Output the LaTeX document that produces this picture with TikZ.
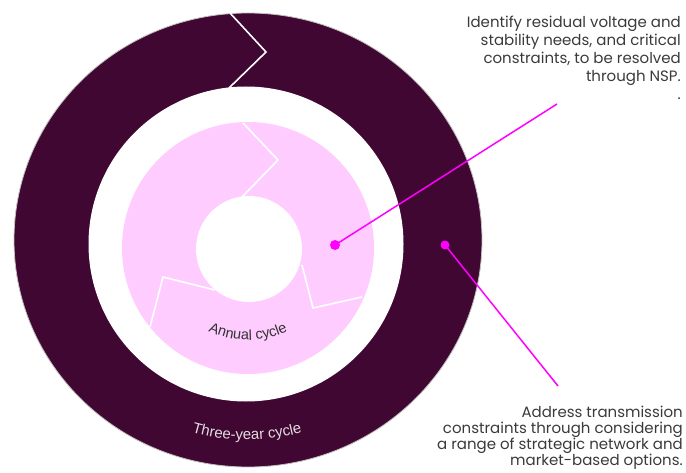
\documentclass[tikz,border=0pt]{standalone}
\usepackage{fontspec}
\setmainfont{Poppins}
\newfontfamily\labelfont{Liberation Sans}
\usetikzlibrary{decorations.text}
\definecolor{ringdark}{HTML}{3F0731}
\definecolor{ringpink}{HTML}{FFCCFF}
\definecolor{callout}{HTML}{FF00FF}
\definecolor{bodytext}{HTML}{3A3A3A}
\definecolor{ringtext}{HTML}{E2DCE0}
\definecolor{annualtext}{HTML}{333333}

\begin{document}
\begin{tikzpicture}[x=1pt,y=1pt,
  gapline/.style={draw=white, line width=1.6pt, line join=miter},
  calloutline/.style={draw=callout, line width=1.5pt},
  calloutdot/.style={circle, fill=callout, inner sep=0pt, minimum size=10pt},
  note/.style={align=right, text=bodytext, inner sep=0pt},
]
\useasboundingbox (0,0) rectangle (686,472);

% three-year ring, white gap, annual ring and hub
\path[fill=ringdark, draw=black!25, line width=0.8pt] (248,232) ellipse[x radius=234, y radius=227];
\fill[white] (246,228) circle[radius=157.5];
\fill[ringpink] (248,224) circle[radius=126];
\fill[white] (249,223) circle[radius=53];

% chevron gaps between the cycle segments
\draw[gapline] (230,459) -- (266,420) -- (229,384);
\draw[gapline] (243,349) -- (278,312) -- (242,275);
\draw[gapline] (150,145) -- (163,195) -- (215,182);
\draw[gapline] (302,207) -- (313,164) -- (362,175);

% ring labels set along arcs
\path[decorate, decoration={text along path, text align=center, text color=annualtext,
  text={|\labelfont\fontsize{14.5}{14.5}\selectfont|Annual cycle}}]
  (248,224) ++(240:92) arc[start angle=240, end angle=300, radius=92];
\path[decorate, decoration={text along path, text align=center, text color=ringtext,
  text={|\labelfont\fontsize{15}{15}\selectfont|Three-year cycle}}]
  (247,230) ++(240:198) arc[start angle=240, end angle=300, radius=198];

% callouts
\node[calloutdot] (dotA) at (335,227) {};
\node[calloutdot, minimum size=9pt] (dotB) at (445,227) {};
\coordinate (endA) at (557,368);
\coordinate (endB) at (558,86);
\draw[calloutline] (dotA.center) -- (endA);
\draw[calloutline] (dotB.center) -- (endB);

\node[note, anchor=north east, font=\fontsize{15}{18}\selectfont] (noteA) at (681,456)
  {Identify residual voltage and\\stability needs, and critical\\constraints, to be resolved\\through NSP.\\.};
\node[note, anchor=north east, font=\fontsize{15}{16}\selectfont] (noteB) at (683,66)
  {Address transmission\\constraints through considering\\a range of strategic network and\\market-based options.};
\end{tikzpicture}
\end{document}
